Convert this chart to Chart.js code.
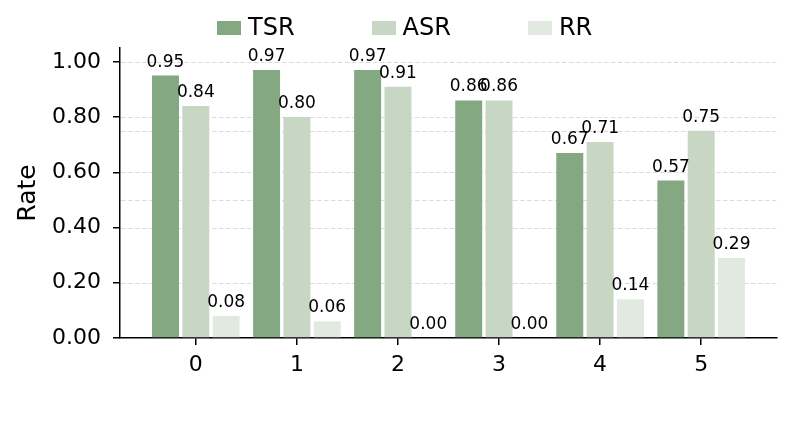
<!DOCTYPE html>
<html>
<head>
<meta charset="utf-8">
<script src="https://cdn.jsdelivr.net/npm/chart.js@4/dist/chart.umd.min.js"></script>
<style>
  html, body { margin: 0; padding: 0; background: #ffffff; }
  #wrap { position: relative; width: 793px; height: 423px; overflow: hidden; }
  #legend { position: absolute; left: 217px; top: 15px; display: flex; gap: 77px;
            font-family: 'DejaVu Sans', sans-serif; font-size: 24px; line-height: 24px; color: #000; }
  #legend .item { white-space: nowrap; }
  #legend .box { display: inline-block; width: 24px; height: 14px; vertical-align: baseline; margin-right: 7px; }
</style>
</head>
<body>
<div id="wrap">
  <canvas id="c" width="793" height="423"></canvas>
  <div id="legend"></div>
</div>
<script>
const categories = [0, 1, 2, 3, 4, 5];
const seriesNames = ['TSR', 'ASR', 'RR'];
const tsrValues = [0.95, 0.97, 0.97, 0.86, 0.67, 0.57];
const asrValues = [0.84, 0.80, 0.91, 0.86, 0.71, 0.75];
const rrValues  = [0.08, 0.06, 0.00, 0.00, 0.14, 0.29];
const yTicks = [0.0, 0.2, 0.4, 0.6, 0.8, 1.0];
const gridValues = [0.2, 0.4, 0.5, 0.6, 0.75, 0.8, 1.0];
const seriesColors = ['#84a882', '#c8d6c4', '#e2e9e0'];

const allValues = [tsrValues, asrValues, rrValues];
const datasets = seriesNames.map((name, k) => ({
  label: name,
  data: categories.map((c, i) => ({ x: c, y: allValues[k][i] })),
  backgroundColor: seriesColors[k],
  borderWidth: 0,
  categoryPercentage: 0.9,
  barPercentage: 0.89
}));

// HTML legend
const legendEl = document.getElementById('legend');
seriesNames.forEach((name, k) => {
  const item = document.createElement('div');
  item.className = 'item';
  const box = document.createElement('span');
  box.className = 'box';
  box.style.background = seriesColors[k];
  item.appendChild(box);
  item.appendChild(document.createTextNode(name));
  legendEl.appendChild(item);
});

const dashedGrid = {
  id: 'dashedGrid',
  beforeDatasetsDraw(chart) {
    const { ctx, chartArea, scales } = chart;
    ctx.save();
    ctx.strokeStyle = '#dcdcdc';
    ctx.lineWidth = 1;
    ctx.setLineDash([4.5, 2.5]);
    gridValues.forEach(v => {
      const y = Math.round(scales.y.getPixelForValue(v)) + 0.5;
      ctx.beginPath();
      ctx.moveTo(chartArea.left + 1, y);
      ctx.lineTo(chartArea.right, y);
      ctx.stroke();
    });
    ctx.restore();
  }
};

const valueLabels = {
  id: 'valueLabels',
  afterDatasetsDraw(chart) {
    const { ctx } = chart;
    ctx.save();
    ctx.font = '17px "DejaVu Sans", sans-serif';
    ctx.fillStyle = '#000';
    ctx.textAlign = 'center';
    ctx.textBaseline = 'alphabetic';
    chart.data.datasets.forEach((ds, k) => {
      const meta = chart.getDatasetMeta(k);
      meta.data.forEach((el, i) => {
        ctx.fillText(ds.data[i].y.toFixed(2), el.x, el.y - 9);
      });
    });
    ctx.restore();
  }
};

new Chart(document.getElementById('c'), {
  type: 'bar',
  data: { datasets },
  options: {
    responsive: false,
    animation: false,
    devicePixelRatio: 1,
    layout: { padding: { top: 48, right: 16, left: 0, bottom: 0 } },
    plugins: { legend: { display: false }, tooltip: { enabled: false } },
    scales: {
      x: {
        type: 'linear',
        min: -0.75,
        max: 5.75,
        offset: false,
        afterBuildTicks(scale) { scale.ticks = categories.map(v => ({ value: v })); },
        afterFit(scale) { scale.height = 85; },
        ticks: {
          font: { family: 'DejaVu Sans', size: 22 },
          color: '#000',
          padding: 7,
          maxRotation: 0,
          callback: v => String(v)
        },
        grid: { display: true, drawOnChartArea: false, drawTicks: true, tickLength: 7, color: '#000', lineWidth: 1.5, offset: false },
        border: { display: true, color: '#000', width: 1.5 }
      },
      y: {
        min: 0,
        max: 1.05,
        afterBuildTicks(scale) { scale.ticks = yTicks.map(v => ({ value: v })); },
        afterFit(scale) { scale.width = 120; },
        ticks: {
          font: { family: 'DejaVu Sans', size: 22 },
          color: '#000',
          padding: 12,
          callback: v => Number(v).toFixed(2)
        },
        grid: { display: true, drawOnChartArea: false, drawTicks: true, tickLength: 7, color: '#000', lineWidth: 1.5 },
        border: { display: true, color: '#000', width: 1.5 },
        title: {
          display: true,
          text: 'Rate',
          color: '#000',
          font: { family: 'DejaVu Sans', size: 25 },
          padding: { top: 13, bottom: 0 }
        }
      }
    }
  },
  plugins: [dashedGrid, valueLabels]
});
</script>
</body>
</html>
